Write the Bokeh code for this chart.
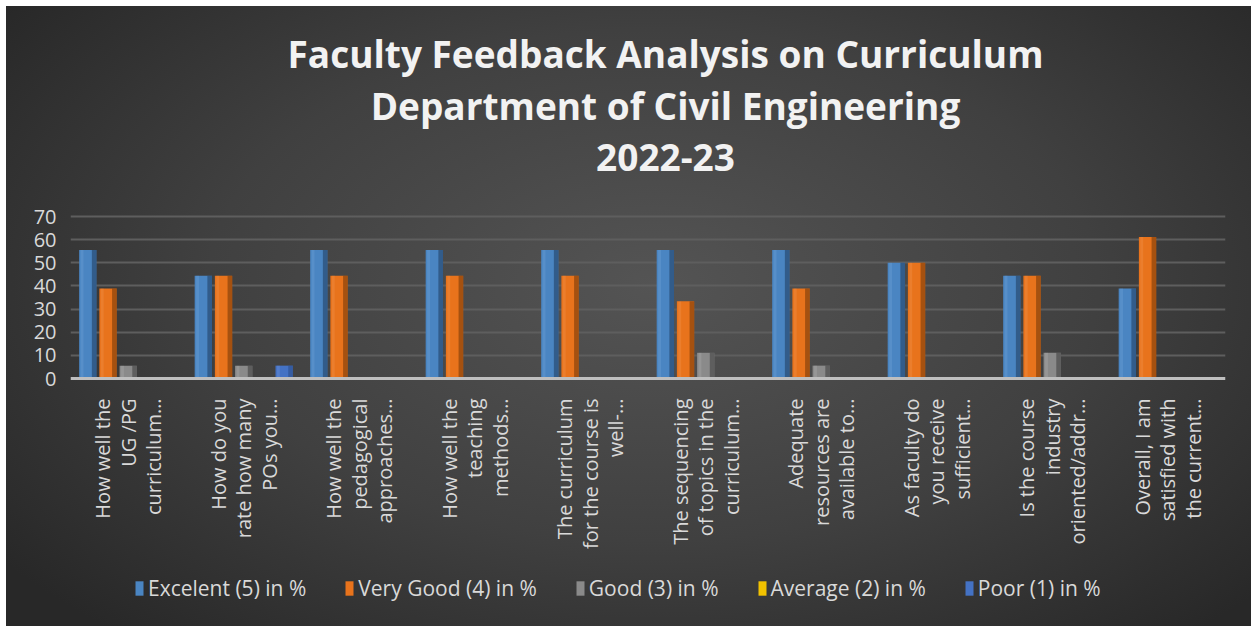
import math
from bokeh.plotting import figure
from bokeh.models import FactorRange, FixedTicker, Legend, LegendItem, Label
from bokeh.transform import dodge
from bokeh.embed import file_html
from bokeh.resources import INLINE

categories = [
    "How well the\nUG /PG\ncurriculum…",
    "How do you\nrate how many\nPOs you…",
    "How well the\npedagogical\napproaches…",
    "How well the\nteaching\nmethods…",
    "The curriculum\nfor the course is\nwell-…",
    "The sequencing\nof topics in the\ncurriculum…",
    "Adequate\nresources are\navailable to…",
    "As faculty do\nyou receive\nsufficient…",
    "Is the course\nindustry\noriented/addr…",
    "Overall, I am\nsatisfied with\nthe current…",
]
series_names = ["Excelent (5) in %", "Very Good (4) in %", "Good (3) in %",
                "Average (2) in %", "Poor (1) in %"]
excellent = [55.56, 44.44, 55.56, 55.56, 55.56, 55.56, 55.56, 50.0, 44.44, 38.89]
very_good = [38.89, 44.44, 44.44, 44.44, 44.44, 33.33, 38.89, 50.0, 44.44, 61.11]
good = [5.56, 5.56, 0, 0, 0, 11.11, 5.56, 0, 11.11, 0]
average = [0, 0, 0, 0, 0, 0, 0, 0, 0, 0]
poor = [0, 5.56, 0, 0, 0, 0, 0, 0, 0, 0]
y_ticks = [0, 10, 20, 30, 40, 50, 60, 70]
title_lines = ["Faculty Feedback Analysis on Curriculum",
               "Department of Civil Engineering", "2022-23"]

colors = ["#4a85c2", "#e8731c", "#8a8a8a", "#f2c200", "#4472c4"]
dark = ["#1f3b5c", "#6e3408", "#3a3a3a", "#7a6000", "#2a4a86"]
light = ["#7fb0e0", "#f5a060", "#bdbdbd", "#ffe070", "#7f9fe0"]
offsets = [-0.35, -0.175, 0.0, 0.175, 0.35]

# layout (pixels)
MARGIN = 6
FRAME_H = 614
AXIS_PX = 162          # height of 0..70 span
ZERO_FROM_TOP = 372    # distance of the 0 line from frame top
ppu = AXIS_PX / 70.0
y_top = ZERO_FROM_TOP / ppu
y_bottom = -(FRAME_H - ZERO_FROM_TOP) / ppu

p = figure(x_range=FactorRange(*categories, range_padding=0), y_range=(y_bottom, y_top),
           frame_width=1155, frame_height=FRAME_H, output_backend="svg", toolbar_location=None,
           min_border_left=64, min_border_right=26, min_border_top=0,
           min_border_bottom=6, title=None)
p.margin = (MARGIN, 0, 0, MARGIN)
p.background_fill_alpha = 0
p.border_fill_alpha = 0
p.outline_line_color = None
p.styles = {"background": "radial-gradient(ellipse 65% 75% at 52% 45%, #545454 0%, #404040 55%, #282828 100%)"}

title_y = [567, 515, 463]
for txt, ty in zip(title_lines, title_y):
    p.add_layout(Label(x=595, y=ty, x_units="screen", y_units="screen", text=txt,
                       text_align="center", text_baseline="middle", text_color="#f2f2f2",
                       text_font="Open Sans", text_font_size="37px", text_font_style="bold"))

data = dict(cat=categories, s0=excellent, s1=very_good, s2=good, s3=average, s4=poor)
items = []
for i, name in enumerate(series_names):
    r = p.vbar(x=dodge("cat", offsets[i], range=p.x_range), top="s%d" % i, width=0.15,
               source=data, fill_color=colors[i], line_color=None)
    p.vbar(x=dodge("cat", offsets[i] + 0.055, range=p.x_range), top="s%d" % i, width=0.04,
           source=data, fill_color=dark[i], fill_alpha=0.55, line_color=None)
    p.vbar(x=dodge("cat", offsets[i] - 0.05, range=p.x_range), top="s%d" % i, width=0.025,
           source=data, fill_color=light[i], fill_alpha=0.25, line_color=None)
    items.append(LegendItem(label=name, renderers=[r]))

p.xgrid.grid_line_color = None
p.ygrid.grid_line_color = "#5e5e5e"
p.ygrid.grid_line_width = 2
p.ygrid.ticker = FixedTicker(ticks=y_ticks[1:])
p.yaxis.ticker = FixedTicker(ticks=y_ticks)
p.yaxis.axis_line_color = None
p.yaxis.major_tick_line_color = None
p.yaxis.minor_tick_line_color = None
p.yaxis.major_label_text_color = "#d9d9d9"
p.yaxis.major_label_text_font = "Open Sans"
p.yaxis.major_label_text_font_size = "20px"
p.yaxis.major_label_standoff = 8

p.xaxis.fixed_location = 0
p.xaxis.axis_line_color = "#bfbfbf"
p.xaxis.axis_line_width = 3
p.xaxis.major_tick_line_color = None
p.xaxis.minor_tick_line_color = None
p.xaxis.major_label_orientation = math.pi / 2
p.xaxis.major_label_text_color = "#d9d9d9"
p.xaxis.major_label_text_font = "Open Sans"
p.xaxis.major_label_text_font_size = "20px"
p.xaxis.major_label_text_line_height = 0.95
p.xaxis.major_label_standoff = 14

legend = Legend(items=items, orientation="horizontal", location=(64, 18),
                background_fill_alpha=0, border_line_color=None,
                label_text_color="#d9d9d9", label_text_font="Open Sans",
                label_text_font_size="21px", glyph_width=10, glyph_height=18,
                label_standoff=4, spacing=38, padding=2, margin=0)
p.add_layout(legend)

open("out.html", "w").write(file_html(p, INLINE))
